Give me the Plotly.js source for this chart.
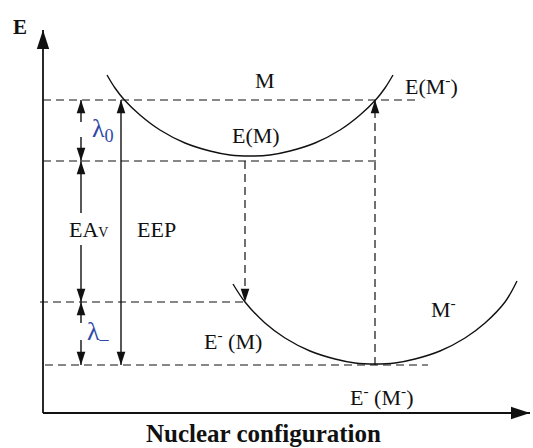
<!DOCTYPE html>
<html>
<head>
<meta charset="utf-8">
<script src="https://cdn.plot.ly/plotly-3.0.1.min.js"></script>
</head>
<body style="margin:0">
<div id="chart"></div>
<script>
// ---- data (schematic units: x = nuclear configuration, y = energy) ----
const neutralX = [64, 72, 81, 97, 117, 142, 167, 187, 207, 227, 247, 272, 297, 317, 333, 342, 350];
const neutralE = [338, 325, 313.5, 298, 283, 270, 262, 258, 257, 258, 262, 270, 283, 298, 313.5, 325, 338];
const anionX = [190, 202, 222, 242, 267, 292, 312, 332, 352, 372, 397, 422, 442, 462, 474];
const anionE = [129, 111, 90, 75, 62, 54, 50, 49, 50, 54, 62, 75, 90, 111, 132];

// energy levels (dashed guide lines)
const levelE     = [313, 252, 111, 48];
const levelStart = [0, 0, -3, 2];
const levelEnd   = [377, 334, 202, 385];

// arrows: x, tail, tip, dashed?
const arrowX      = [38, 38, 38, 38, 38, 38, 78, 78, 202, 332];
const arrowFrom   = [291, 276, 200, 168, 90, 73, 180, 180, 252, 48];
const arrowTo     = [313, 252, 252, 111, 111, 48, 313, 48, 111, 313];
const arrowDashed = [false, false, false, false, false, false, false, false, true, true];

// axes
const axisXEnd = 487;
const axisYEnd = 383;

// labels
const labelText = ['M', 'E(M<sup>-</sup>)', 'E(M)', 'E<sup>-</sup> (M)', 'M<sup>-</sup>',
                   'E<sup>-</sup> (M<sup>-</sup>)', 'EA<span style="font-size:14px">V</span>', 'EEP'];
const labelX = [222, 360, 213, 190, 400, 338, 45, 113];
const labelY = [333, 328, 278, 73, 105, 17, 184, 184];
const lambdaText = ['λ<sub>0</sub>', 'λ<sub>–</sub>'];
const lambdaX = [60, 55];
const lambdaY = [283, 80];

// ---- build traces ----
const black = '#111';
const traces = [];

for (let i = 0; i < levelE.length; i++) {
  traces.push({x: [levelStart[i], levelEnd[i]], y: [levelE[i], levelE[i]], mode: 'lines',
    line: {color: black, width: 1.2, dash: '8px,5px'}});
}
traces.push({x: neutralX, y: neutralE, mode: 'lines', line: {color: black, width: 1.4, shape: 'spline'}});
traces.push({x: anionX, y: anionE, mode: 'lines', line: {color: black, width: 1.4, shape: 'spline'}});

for (let i = 0; i < arrowX.length; i++) {
  traces.push({x: [arrowX[i], arrowX[i]], y: [arrowFrom[i], arrowTo[i]], mode: 'lines',
    line: {color: black, width: arrowDashed[i] ? 1.2 : 1.4, dash: arrowDashed[i] ? '8px,5px' : 'solid'}});
}
traces.push({x: arrowX, y: arrowTo, mode: 'markers',
  marker: {symbol: 'arrow', size: 14, color: black, line: {width: 0},
    angle: arrowTo.map((t, i) => t > arrowFrom[i] ? 0 : 180)}});

traces.push({x: [0, 0], y: [0, axisYEnd], mode: 'lines', line: {color: black, width: 1.8}});
traces.push({x: [0, axisXEnd], y: [0, 0], mode: 'lines', line: {color: black, width: 1.8}});
traces.push({x: [0, axisXEnd], y: [axisYEnd, 0], mode: 'markers',
  marker: {symbol: 'arrow', size: 20, color: black, line: {width: 0}, angle: [0, 90]}});

// ---- annotations ----
const ann = [];
for (let i = 0; i < labelText.length; i++) {
  ann.push({x: labelX[i], y: labelY[i], text: labelText[i], showarrow: false,
    xanchor: i === 1 ? 'left' : 'center',
    font: {family: 'Liberation Serif', size: 22}});
}
for (let i = 0; i < lambdaText.length; i++) {
  ann.push({x: lambdaX[i], y: lambdaY[i], text: lambdaText[i], showarrow: false,
    xanchor: 'center',
    font: {family: 'Liberation Serif', size: 26, color: '#2e4aa8'}});
}
ann.push({x: -23, y: 386, text: '<b>E</b>', showarrow: false,
  font: {family: 'Liberation Serif', size: 21}});
ann.push({x: 220, y: -20, text: '<b>Nuclear configuration</b>', showarrow: false,
  font: {family: 'Liberation Serif', size: 25}});

const layout = {
  width: 533, height: 448,
  margin: {l: 0, r: 0, t: 0, b: 0, pad: 0},
  font: {family: 'Liberation Serif', color: black},
  showlegend: false,
  hovermode: false,
  xaxis: {range: [-43, 490], showgrid: false, zeroline: false, showticklabels: false, ticks: '', showline: false},
  yaxis: {range: [-35, 413], showgrid: false, zeroline: false, showticklabels: false, ticks: '', showline: false},
  annotations: ann
};

Plotly.newPlot('chart', traces, layout, {displayModeBar: false});
</script>
</body>
</html>
